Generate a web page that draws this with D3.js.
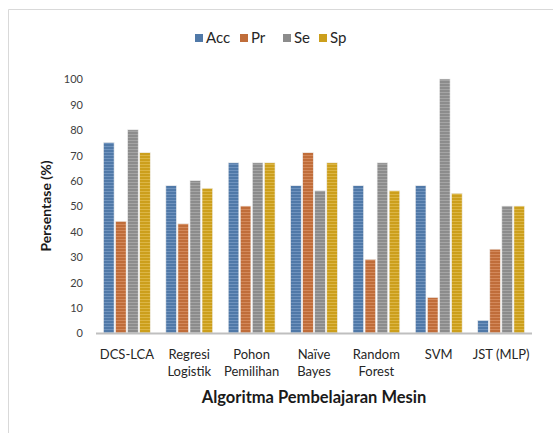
<!DOCTYPE html>
<html><head><meta charset="utf-8">
<script src="https://cdn.jsdelivr.net/npm/d3@7"></script>
<style>body{margin:0;background:#fff}svg{display:block;font-family:Lato,"Open Sans",sans-serif}</style>
</head><body><svg id="c" width="553" height="433"></svg>
<script>
const categories = [["DCS-LCA"],["Regresi","Logistik"],["Pohon","Pemilihan"],["Naïve","Bayes"],["Random","Forest"],["SVM"],["JST (MLP)"]];
const seriesNames = ["Acc","Pr","Se","Sp"];
const acc = [75,58,67,58,58,58,5];
const pr  = [44,43,50,71,29,14,33];
const se  = [80,60,67,56,67,100,50];
const sp  = [71,57,67,67,56,55,50];
const yTicks = [0,10,20,30,40,50,60,70,80,90,100];
const colors = ["#5079a8","#c06d3a","#8c8c8c","#cc9f1c"];
const light = ["#7c9fc8","#dc9568","#aeaeae","#e3bf55"];
const values = [acc,pr,se,sp];

const svg = d3.select("#c");
svg.append("path").attr("d","M8.5,433 V9.5 H553").attr("fill","none").attr("stroke","#d9d9d9");

const defs = svg.append("defs");
colors.forEach((c,i)=>{
  const p = defs.append("pattern").attr("id","p"+i).attr("patternUnits","userSpaceOnUse").attr("width",4).attr("height",3);
  p.append("rect").attr("width",4).attr("height",3).attr("fill",c);
  p.append("rect").attr("y",2).attr("width",4).attr("height",1).attr("fill",light[i]).attr("opacity",0.7);
});

const y = d3.scaleLinear().domain([0,100]).range([333,79]);
const x0 = d3.scaleBand().domain(d3.range(categories.length)).range([96,532]).paddingInner(0.25).paddingOuter(0.12);
const x1 = d3.scaleBand().domain(d3.range(seriesNames.length)).range([0,x0.bandwidth()]).paddingInner(0.12);

const yAxis = d3.axisLeft(y).tickValues(yTicks).tickSize(0).tickPadding(0);
const ga = svg.append("g").attr("transform","translate(83,0)").call(yAxis);
ga.select(".domain").remove();
ga.selectAll("text").attr("font-size",11).attr("fill","#404040").attr("font-family","Lato,sans-serif").attr("dy","0.35em");

categories.forEach((cat,ci)=>{
  const g = svg.append("g").attr("transform",`translate(${x0(ci)},0)`);
  values.forEach((arr,si)=>{
    g.append("rect").attr("x",x1(si)).attr("y",y(arr[ci])).attr("width",x1.bandwidth()).attr("height",y(0)-y(arr[ci]))
      .attr("fill",`url(#p${si})`).attr("stroke","#eeeeee").attr("stroke-width",0.6);
  });
});

svg.append("line").attr("x1",96).attr("x2",532).attr("y1",y(0)+0.5).attr("y2",y(0)+0.5).attr("stroke","#bfbfbf").attr("stroke-width",2);

categories.forEach((cat,ci)=>{
  const t = svg.append("text").attr("text-anchor","middle").attr("font-size",13).attr("fill","#262626")
    .attr("x",x0(ci)+x0.bandwidth()/2).attr("y",359);
  cat.forEach((l,li)=>t.append("tspan").attr("x",x0(ci)+x0.bandwidth()/2).attr("dy",li?17:0).text(l));
});

svg.append("text").attr("x",314).attr("y",403).attr("text-anchor","middle").attr("font-size",16.5).attr("font-weight","bold").attr("fill","#1a1a1a").text("Algoritma Pembelajaran Mesin");
svg.append("text").attr("transform","translate(51,206) rotate(-90)").attr("text-anchor","middle").attr("font-size",14).attr("font-weight","bold").attr("fill","#1a1a1a").text("Persentase (%)");

const legX = [195,240,283,319];
seriesNames.forEach((n,i)=>{
  svg.append("rect").attr("x",legX[i]).attr("y",34).attr("width",8).attr("height",8).attr("fill",colors[i]);
  svg.append("text").attr("x",legX[i]+11).attr("y",43).attr("font-size",15).attr("fill","#262626").text(n);
});
</script></body></html>
